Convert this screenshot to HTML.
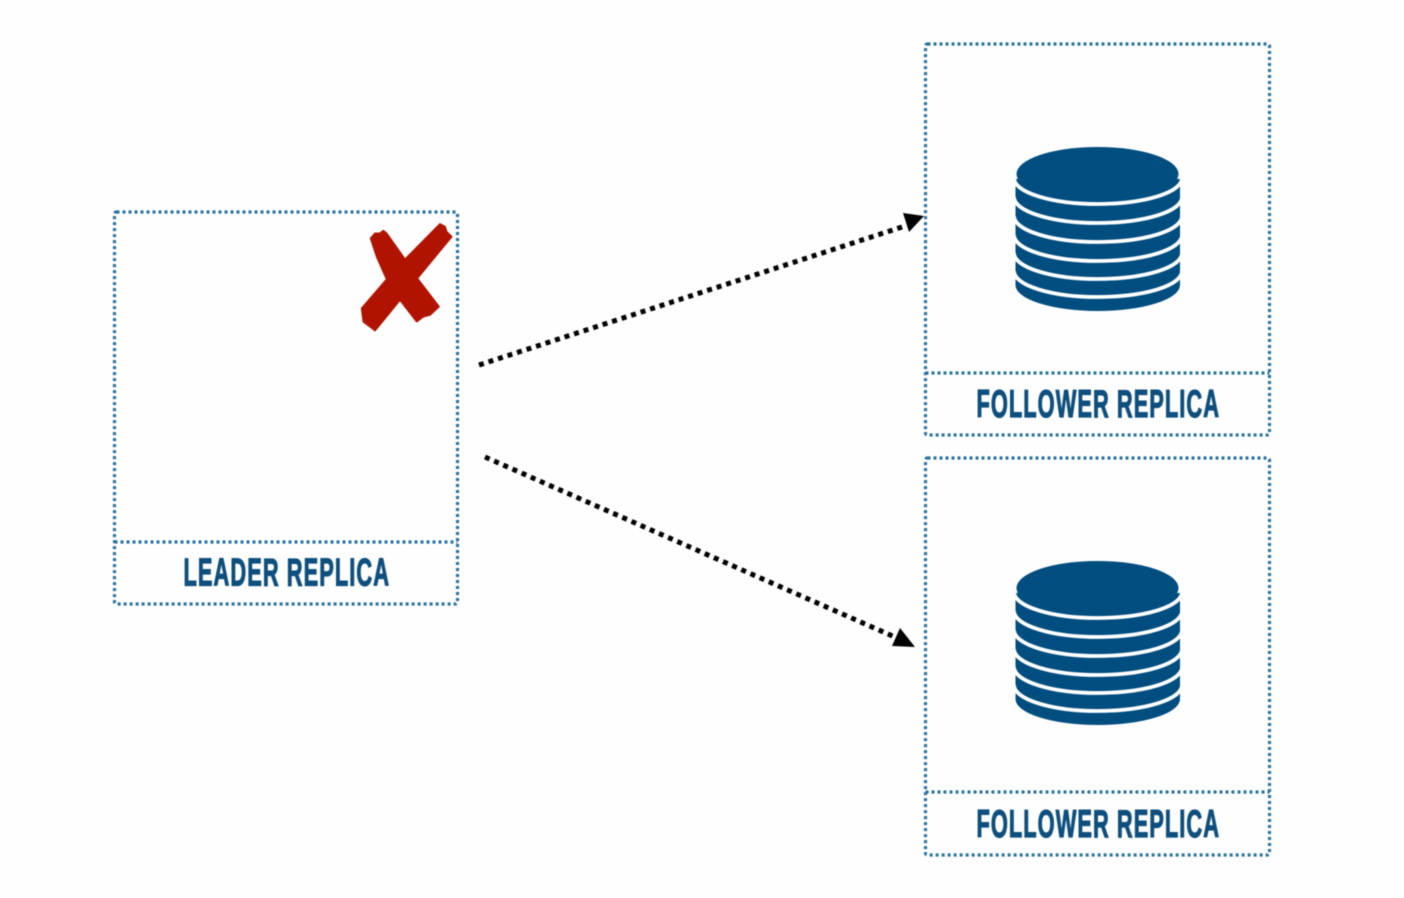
<!DOCTYPE html>
<html>
<head>
<meta charset="utf-8">
<style>
html,body{margin:0;padding:0;background:#fff;width:1404px;height:898px;overflow:hidden}
svg{display:block;filter:blur(.4px)}
text{font-family:"Liberation Sans",sans-serif;font-weight:700;fill:#0f4f7d;stroke:#0f4f7d;stroke-width:1.2px;font-size:39px}
</style>
</head>
<body>
<svg width="1404" height="898" viewBox="0 0 1404 898" xmlns="http://www.w3.org/2000/svg">
<rect width="1404" height="898" fill="#fefefe"/>
<defs>
<g id="db">
<path d="M1015.5 179 L1180 179 L1180 285 A82.25 26 0 0 1 1015.5 285 Z" fill="#004d80"/>
<path d="M1012 160H1184V178H1012Z" fill="#fefefe"/>
<g fill="none" stroke="#fff" stroke-width="3.8">
<path d="M1014 178 A84 26 0 0 0 1182 178"/>
<path d="M1014 197 A84 26 0 0 0 1182 197"/>
<path d="M1014 216 A84 26 0 0 0 1182 216"/>
<path d="M1014 235 A84 26 0 0 0 1182 235"/>
<path d="M1014 253 A84 26 0 0 0 1182 253"/>
<path d="M1014 271 A84 26 0 0 0 1182 271"/>
</g>
<ellipse cx="1097.5" cy="174" rx="81" ry="27" fill="#004d80"/>
</g>
</defs>
<g fill="none" stroke="#2a739f" stroke-width="3.2" stroke-dasharray="3 3">
<rect x="114.5" y="212" width="343" height="392" rx="2"/>
<path d="M114.5 542H457.5"/>
<rect x="925.5" y="44" width="344" height="391" rx="2"/>
<path d="M925.5 373H1269.5"/>
<rect x="925.5" y="458" width="344" height="397" rx="2"/>
<path d="M925.5 792H1269.5"/>
</g>
<use href="#db"/>
<use href="#db" y="414"/>
<text transform="translate(183.5 585.5) scale(.56 1)" textLength="367" lengthAdjust="spacing">LEADER REPLICA</text>
<text transform="translate(976.5 417) scale(.56 1)" textLength="433" lengthAdjust="spacing">FOLLOWER REPLICA</text>
<text transform="translate(976.5 837) scale(.56 1)" textLength="433" lengthAdjust="spacing">FOLLOWER REPLICA</text>
<polygon transform="translate(340 200) scale(.3333)" fill="#b01400" stroke="#b01400" stroke-width="5" stroke-linejoin="round" points="92,115 105,100 120,100 130,92 140,100 195,178 300,72 315,80 320,95 335,110 232,235 297,320 270,345 250,350 230,365 180,300 105,392 90,380 70,365 65,325 140,238 110,170"/>
<g fill="none" stroke="#000" stroke-width="5" stroke-dasharray="5 5">
<path d="M479 365L905 226"/>
<path d="M485 457L897 638"/>
</g>
<polygon points="903,213 924,216 909,232" fill="#000"/>
<polygon points="900,628 915,647 892,646" fill="#000"/>
</svg>
</body>
</html>
